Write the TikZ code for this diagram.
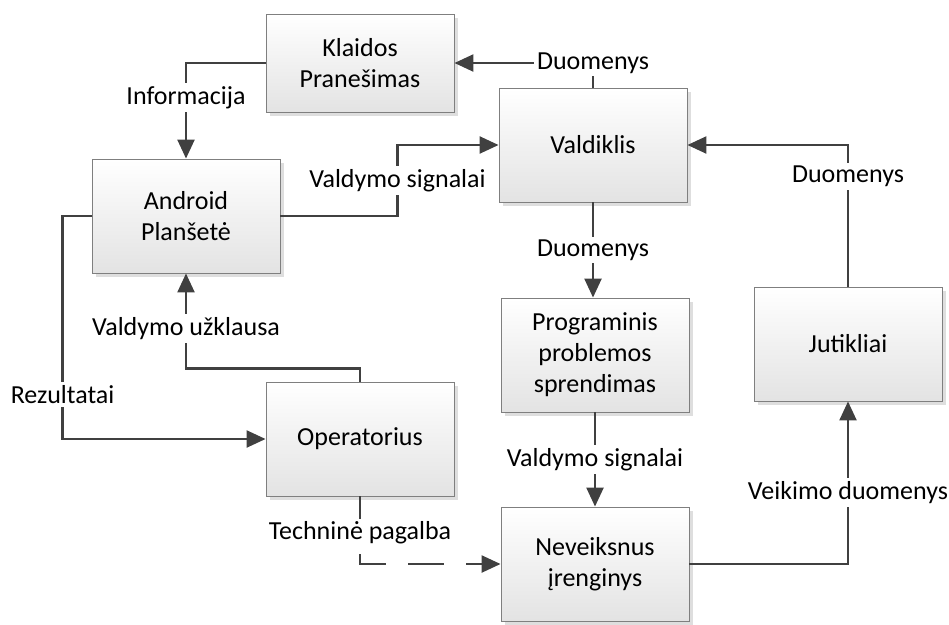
\documentclass[tikz,border=0pt]{standalone}
\usepackage{fontspec}
\setmainfont{Carlito}
\usetikzlibrary{arrows.meta,shadows}
\definecolor{linegray}{HTML}{404040}
\definecolor{boxgray}{HTML}{7F7F7F}
\begin{document}
\begin{tikzpicture}[x=1pt,y=-1pt]
    \tikzset{every node/.style={font=\fontsize{26}{31}\selectfont}}
    \tikzset{blok/.style={draw=boxgray, line width=0.9pt, align=center, minimum width=188pt, minimum height=114pt, top color=white, bottom color=black!11, drop shadow={shadow xshift=4pt, shadow yshift=-4pt, fill=black!13, opacity=1}}}
    \tikzset{conn/.style={-{Triangle[length=19pt,width=17pt]}, linegray, line width=2.4pt}}
    \tikzset{lbl/.style={fill=white, inner sep=3pt, text=black}}

    \useasboundingbox (0,0) rectangle (949,624);

    \node[blok, minimum height=98pt] (klaida) at (360,63) {Klaidos\\Pranešimas};
    \node[blok] (valdiklis) at (593,145) {Valdiklis};
    \node[blok] (android) at (186,216) {Android\\Planšetė};
    \node[blok] (programa) at (595,355) {Programinis\\problemos\\sprendimas};
    \node[blok] (jutikliai) at (848,344) {Jutikliai};
    \node[blok] (operatorius) at (360,439) {Operatorius};
    \node[blok] (irenginys) at (595,564) {Neveiksnus\\įrenginys};

    \draw[conn] (valdiklis.north) |- node[lbl, pos=0.5] {Duomenys} (klaida.east);
    \draw[conn] (klaida.west) -| node[lbl, pos=0.68] {Informacija} (android.north);
    \draw[conn] (android.east) -- ++(117,0) |- node[lbl, pos=0.25] {Valdymo signalai} (valdiklis.west);
    \draw[conn] (valdiklis.south) -- node[lbl] {Duomenys} (valdiklis.south |- programa.north);
    \draw[conn] (programa.south) -- node[lbl] {Valdymo signalai} (programa.south |- irenginys.north);
    \draw[conn] (irenginys.east) -| node[lbl, pos=0.72] {Veikimo duomenys} (jutikliai.south);
    \draw[conn] (jutikliai.north) |- node[lbl, pos=0.39] {Duomenys} (valdiklis.east);
    \draw[conn] (operatorius.north) -- ++(0,-13) -| node[lbl, pos=0.71] {Valdymo užklausa} (android.south);
    \draw[conn] (android.west) -- ++(-29,0) |- node[lbl, pos=0.4] {Rezultatai} (operatorius.west);
    \draw[conn, dash pattern=on 36pt off 22pt] (operatorius.south) |- node[lbl, pos=0.27] {Techninė pagalba} (irenginys.west);
\end{tikzpicture}
\end{document}
